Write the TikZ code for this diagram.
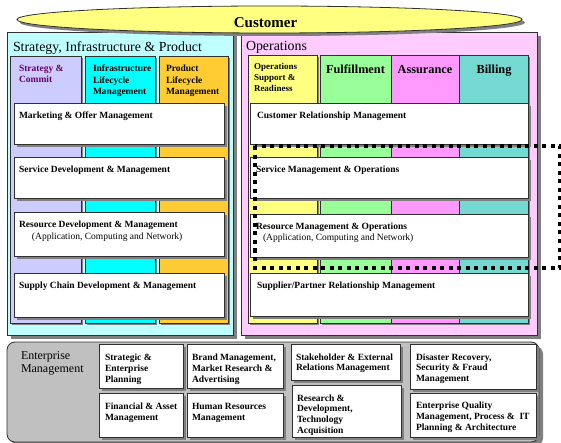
\documentclass[tikz,border=0pt]{standalone}
\usepackage{fontspec}
\setmainfont{Liberation Serif}
\usetikzlibrary{shadows,shapes.geometric}
\definecolor{custY}{HTML}{FFFF80}
\definecolor{stratBG}{HTML}{C0FFFF}
\definecolor{opsBG}{HTML}{FFCCFF}
\definecolor{lavC}{HTML}{CCCCFF}
\definecolor{cyanC}{HTML}{00FFFF}
\definecolor{orangeC}{HTML}{FFCC33}
\definecolor{yellowC}{HTML}{FFFF80}
\definecolor{greenC}{HTML}{99FF99}
\definecolor{pinkC}{HTML}{FF99FF}
\definecolor{tealC}{HTML}{74D9D0}
\definecolor{entBG}{HTML}{C0C0C0}
\definecolor{shadowG}{HTML}{808080}
\definecolor{purpleT}{HTML}{660066}
\definecolor{lineC}{HTML}{303030}
\begin{document}
\begin{tikzpicture}[x=1pt,y=-1pt,
  every node/.style={inner sep=0pt, outer sep=0pt},
  sh/.style={drop shadow={shadow xshift=#1pt, shadow yshift=-#1pt, fill=shadowG, opacity=1}},
  panel/.style={rectangle, draw=lineC, line width=0.8pt, anchor=north west, sh=4},
  colbox/.style={rectangle, draw=lineC, line width=0.6pt, anchor=north west, sh=2},
  wbox/.style={rectangle, draw=lineC, line width=0.8pt, fill=white, anchor=north west, sh=3},
  btxt/.style={anchor=north west, align=left, font=\fontsize{9.5}{11.5}\selectfont\bfseries},
  etxt/.style={anchor=north west, align=left, font=\fontsize{9.5}{10.8}\selectfont\bfseries},
  ttl/.style={anchor=north west, align=left, font=\fontsize{13.9}{16}\selectfont},
  htxt/.style={anchor=base, font=\fontsize{12.3}{14}\selectfont\bfseries},
  dotline/.style={line width=4pt, dash pattern=on 4pt off 4.5pt, black}
]
\useasboundingbox (0,0) rectangle (561,443);

% panels
\node[panel, fill=stratBG, minimum width=226pt, minimum height=303pt] (strat) at (7,32) {};
\node[panel, fill=opsBG, minimum width=296pt, minimum height=303pt] (ops) at (241,32) {};
\node[panel, fill=entBG, rounded corners=8pt, minimum width=532pt, minimum height=100pt] (ent) at (7,342) {};

\node[ttl] (strat-t) at (13,41.5) {Strategy, Infrastructure \& Product};
\node[ttl] (ops-t) at (246,41.5) {Operations};

% strategy columns
\node[colbox, fill=lavC, minimum width=71pt, minimum height=267pt] (c-sc) at (10,56) {};
\node[colbox, fill=cyanC, minimum width=70pt, minimum height=267pt] (c-il) at (85,56) {};
\node[colbox, fill=orangeC, minimum width=69pt, minimum height=267pt] (c-pl) at (159,56) {};
% operations columns
\node[colbox, fill=yellowC, minimum width=69pt, minimum height=268pt] (c-os) at (248,55) {};
\node[colbox, fill=greenC, minimum width=71pt, minimum height=268pt] (c-ff) at (320,55) {};
\node[colbox, fill=pinkC, minimum width=68pt, minimum height=268pt] (c-as) at (391,55) {};
\node[colbox, fill=tealC, minimum width=69pt, minimum height=268pt] (c-bl) at (459,55) {};

% column headers
\node[btxt, text=purpleT] (h-sc) at (19,65) {Strategy \&\\Commit};
\node[btxt] (h-il) at (93,65) {Infrastructure\\Lifecycle\\Management};
\node[btxt] (h-pl) at (166,65) {Product\\Lifecycle\\Management};
\node[btxt, font=\fontsize{9}{11}\selectfont\bfseries] (h-os) at (254,63) {Operations\\Support \&\\Readiness};
\node[htxt] (h-ff) at (355.5,74) {Fulfillment};
\node[htxt] (h-as) at (425,74) {Assurance};
\node[htxt] (h-bl) at (494,74) {Billing};

% strategy white boxes
\node[wbox, minimum width=210pt, minimum height=41pt] (mkt) at (14,103) {};
\node[btxt] (mkt-t) at (19,112) {Marketing \& Offer Management};
\node[wbox, minimum width=210pt, minimum height=41pt] (sdm) at (14,157) {};
\node[btxt] (sdm-t) at (19,166) {Service Development \& Management};
\node[wbox, minimum width=210pt, minimum height=44pt] (rdm) at (14,212) {};
\node[btxt] (rdm-t) at (19,221) {Resource Development \& Management\\\hspace*{13pt}\normalfont(Application, Computing and Network)};
\node[wbox, minimum width=210pt, minimum height=44pt] (scm) at (14,273) {};
\node[btxt] (scm-t) at (19,282) {Supply Chain Development \& Management};

% operations white boxes
\node[wbox, minimum width=278pt, minimum height=41pt] (crm) at (250,103) {};
\node[btxt] (crm-t) at (257,112) {Customer Relationship Management};
\node[wbox, minimum width=278pt, minimum height=41pt] (smo) at (250,157) {};
\node[btxt] (smo-t) at (256,166) {Service Management \& Operations};
\node[wbox, minimum width=278pt, minimum height=43pt] (rmo) at (250,214) {};
\node[btxt] (rmo-t) at (256,222.5) {Resource Management \& Operations\\\hspace*{7pt}\normalfont(Application, Computing and Network)};
\node[wbox, minimum width=278pt, minimum height=43pt] (sprm) at (250,273) {};
\node[btxt] (sprm-t) at (257,282) {Supplier/Partner Relationship Management};

% enterprise management
\node[anchor=north west, align=left, font=\fontsize{12}{13.3}\selectfont] (ent-t) at (21,351.5) {Enterprise\\Management};
\node[wbox, minimum width=84pt, minimum height=44pt] (sep) at (99,344) {};
\node[etxt] (sep-t) at (105,354) {Strategic \&\\Enterprise\\Planning};
\node[wbox, minimum width=96pt, minimum height=44pt] (brand) at (187,344) {};
\node[etxt] (brand-t) at (192,354) {Brand Management,\\Market Research \&\\Advertising};
\node[wbox, minimum width=84pt, minimum height=44pt] (fin) at (99,393) {};
\node[etxt] (fin-t) at (105,403) {Financial \& Asset\\Management};
\node[wbox, minimum width=96pt, minimum height=44pt] (hr) at (187,393) {};
\node[etxt] (hr-t) at (192,403) {Human Resources\\Management};
\node[wbox, minimum width=109pt, minimum height=36pt] (stake) at (291,344) {};
\node[etxt] (stake-t) at (296,353.5) {Stakeholder \& External\\Relations Management};
\node[wbox, minimum width=109pt, minimum height=52pt] (rnd) at (292,385) {};
\node[etxt] (rnd-t) at (297,394.5) {Research \&\\Development,\\Technology\\Acquisition};
\node[wbox, minimum width=126pt, minimum height=45pt] (dis) at (410,344) {};
\node[etxt] (dis-t) at (416,353.5) {Disaster Recovery,\\Security \& Fraud\\Management};
\node[wbox, minimum width=126pt, minimum height=44pt] (eq) at (410,393) {};
\node[etxt] (eq-t) at (416,402) {Enterprise Quality\\Management, Process \&\ \ IT\\Planning \& Architecture};

% customer ellipse
\node[ellipse, draw=lineC, line width=0.8pt, fill=custY, minimum width=505pt, minimum height=27pt, sh=3] (cust) at (269.5,19.5) {};
\node[font=\fontsize{15}{18}\selectfont\bfseries, anchor=base] (cust-t) at (265.5,28) {Customer};

% dotted highlight
\coordinate (d1) at (255,146.5);
\coordinate (d2) at (560,267.5);
\draw[dotline] (d1) rectangle (d2);
\end{tikzpicture}
\end{document}
